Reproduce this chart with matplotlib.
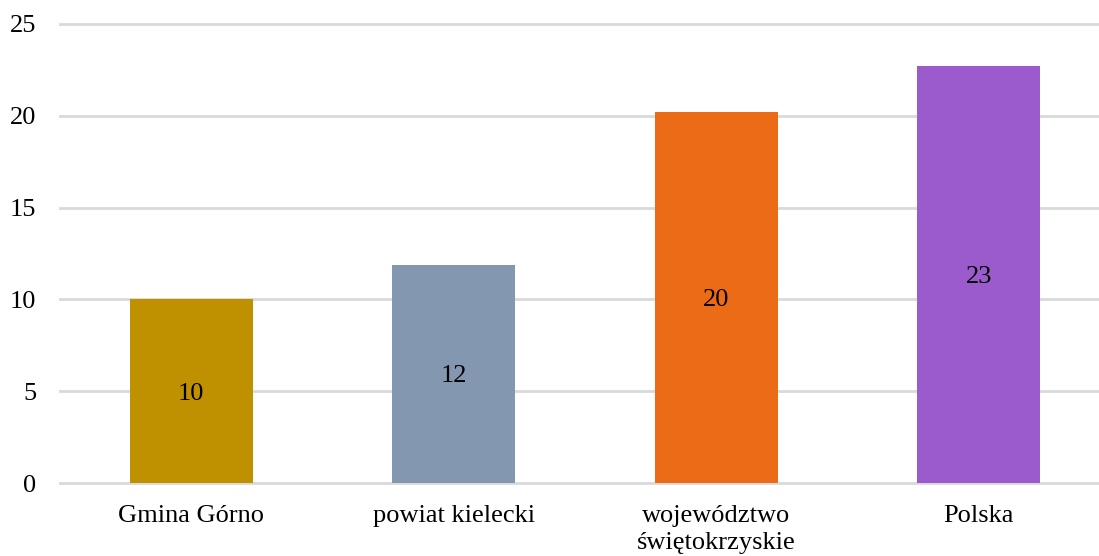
import matplotlib.pyplot as plt

# data
categories = ["Gmina Górno", "powiat kielecki", "województwo\nświętokrzyskie", "Polska"]
values = [10.0, 11.9, 20.2, 22.7]
labels = ["10", "12", "20", "23"]
colors = ["#BF9000", "#8497B0", "#EB6B16", "#9B5BCC"]

plt.rcParams['font.family'] = ['Liberation Serif', 'DejaVu Serif']

fig = plt.figure(figsize=(10.99, 5.56), dpi=100)
ax = fig.add_axes([60 / 1099, 73 / 556, 1050 / 1099, 459 / 556])

x = range(len(categories))
bars = ax.bar(x, values, width=0.47, color=colors, zorder=3)

for b, lab in zip(bars, labels):
    ax.text(b.get_x() + b.get_width() / 2, b.get_height() / 2, lab,
            ha='center', va='center_baseline', fontsize=19, color='black', zorder=4)

ax.set_xlim(-0.5, 3.5)
ax.set_ylim(0, 25)
ax.set_yticks([0, 5, 10, 15, 20, 25])
ax.set_xticks(list(x))
ax.set_xticklabels(categories, fontsize=19, linespacing=1.3)
ax.tick_params(axis='y', length=0, pad=17, labelsize=19)
ax.tick_params(axis='x', length=0, pad=16)
ax.grid(axis='y', color='#D9D9D9', linewidth=2, zorder=0)
for gl in ax.get_ygridlines():
    gl.set_clip_on(False)
for s in ax.spines.values():
    s.set_visible(False)

fig.savefig("out.png", dpi=100)
